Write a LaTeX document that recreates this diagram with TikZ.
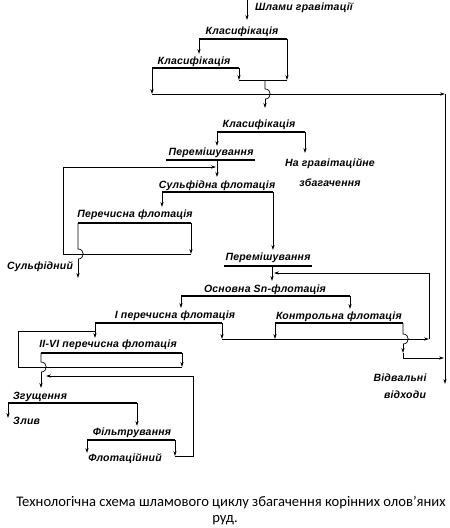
\documentclass[tikz,border=0pt]{standalone}
\usepackage{fontspec}
\setmainfont{Liberation Sans}
\newfontfamily\capfont{Carlito}
\newfontfamily\lblfont[LetterSpace=2]{Liberation Sans}
\usetikzlibrary{arrows.meta}
\tikzset{
  lbl/.style={font=\lblfont\fontsize{10.5}{12}\selectfont\bfseries\itshape, inner sep=0pt},
  barline/.style={line width=1.6pt},
  flow/.style={line width=0.7pt, -{Stealth[length=5pt,width=3.2pt]}},
  wire/.style={line width=0.7pt},
  capt/.style={font=\capfont\fontsize{14.6}{16}\selectfont, inner sep=0pt}
}
\begin{document}
\begin{tikzpicture}[x=1pt,y=-1pt]
\useasboundingbox (0,0) rectangle (450,528);
% ---------- top
\coordinate (in0) at (247,0);
\coordinate (in1) at (247,20);
\node[lbl, anchor=west] (feed) at (255,8) {Шлами гравітації};
\draw[flow] (in0) -- (in1);
\node[lbl] (k1) at (242,32) {Класифікація};
\coordinate (k1l) at (199,39); \coordinate (k1r) at (287,39);
\draw[barline] (k1l) -- (k1r);
\node[lbl] (k2) at (194,62) {Класифікація};
\coordinate (k2l) at (152,68); \coordinate (k2r) at (239,68);
\draw[barline] (k2l) -- (k2r);
\coordinate (k1a) at (199,54);
\draw[flow] (k1l) -- (k1a);
\coordinate (j1l) at (239,80); \coordinate (j1r) at (287,80); \coordinate (j1m) at (265,80);
\draw[flow] (k1r) -- (j1r);
\draw[flow] (k2r) -- (j1l);
\draw[wire] (j1l) -- (j1r);
\coordinate (t1) at (152,94); \coordinate (t2) at (445,94); \coordinate (t3) at (445,384);
\draw[flow] (k2l) -- (t1);
\draw[flow] (t1) -- (t2);
\draw[flow] (t2) -- (t3);
\coordinate (h1a) at (265,89); \coordinate (h1b) at (265,99); \coordinate (k3in) at (265,108);
\draw[wire] (j1m) -- (h1a) .. controls (272,89) and (272,99) .. (h1b);
\draw[flow] (h1b) -- (k3in);
% ---------- classification 3
\node[lbl] (k3) at (259,125) {Класифікація};
\coordinate (k3l) at (217,132); \coordinate (k3r) at (305,132);
\draw[barline] (k3l) -- (k3r);
\coordinate (p1in) at (217,146);
\draw[flow] (k3l) -- (p1in);
\coordinate (grin) at (305,153);
\draw[flow] (k3r) -- (grin);
\node[lbl] (gr1) at (330,164) {На гравітаційне};
\node[lbl] (gr2) at (330,183) {збагачення};
% ---------- mixing 1
\node[lbl] (p1) at (211,153) {Перемішування};
\coordinate (p1l) at (166,160); \coordinate (p1r) at (255,160);
\draw[barline] (p1l) -- (p1r);
\coordinate (p1o) at (217,160); \coordinate (sin) at (217,177);
\draw[flow] (p1o) -- (sin);
% ---------- sulphide flotation
\node[lbl] (s) at (217,186) {Сульфідна флотація};
\coordinate (sl) at (162,192); \coordinate (sr) at (273,192);
\draw[barline] (sl) -- (sr);
\coordinate (pfin) at (162,207);
\draw[flow] (sl) -- (pfin);
\node[lbl] (pf) at (135,215) {Перечисна флотація};
\coordinate (pfl) at (78,223); \coordinate (pfr) at (191,223);
\draw[barline] (pfl) -- (pfr);
\coordinate (r1) at (191,254); \coordinate (r2) at (63,254); \coordinate (r3) at (63,167); \coordinate (r4) at (216,167);
\draw[flow] (pfr) -- (r1);
\draw[flow] (r1) -- (r2) -- (r3) -- (r4);
\coordinate (h2a) at (78,249); \coordinate (h2b) at (78,259); \coordinate (sulf) at (78,278);
\draw[wire] (pfl) -- (h2a) .. controls (85,249) and (85,259) .. (h2b);
\draw[flow] (h2b) -- (sulf);
\node[lbl] (sulft) at (40,267) {Сульфідний};
% ---------- mixing 2
\coordinate (p2in) at (273,250);
\draw[flow] (sr) -- (p2in);
\node[lbl] (p2) at (268,258) {Перемішування};
\coordinate (p2l) at (224,266); \coordinate (p2r) at (312,266);
\draw[barline] (p2l) -- (p2r);
\coordinate (p2o) at (272,266); \coordinate (oin) at (272,281);
\draw[flow] (p2o) -- (oin);
% ---------- main Sn flotation
\node[lbl] (o) at (265,290) {Основна Sn-флотація};
\coordinate (ol) at (181,296); \coordinate (or) at (350,296);
\draw[barline] (ol) -- (or);
\coordinate (iin) at (181,308); \coordinate (kin) at (350,309);
\draw[flow] (ol) -- (iin);
\draw[flow] (or) -- (kin);
\node[lbl] (i1) at (175,316) {I перечисна флотація};
\coordinate (i1l) at (95,323); \coordinate (i1r) at (222,323);
\draw[barline] (i1l) -- (i1r);
\node[lbl] (kf) at (339,317) {Контрольна флотація};
\coordinate (kfl) at (275,323); \coordinate (kfr) at (403,323);
\draw[barline] (kfl) -- (kfr);
\coordinate (m1) at (222,339); \coordinate (m2) at (275,339); \coordinate (m3) at (429,339);
\coordinate (m4) at (429,273); \coordinate (m5) at (274,273);
\draw[flow] (i1r) -- (m1);
\draw[flow] (kfl) -- (m2);
\draw[flow] (m1) -- (m3);
\draw[flow] (m3) -- (m4) -- (m5);
\coordinate (h3a) at (403,334); \coordinate (h3b) at (403,344); \coordinate (h3c) at (403,353);
\coordinate (h3d) at (403,358); \coordinate (h3e) at (444,358);
\draw[wire] (kfr) -- (h3a) .. controls (410,334) and (410,344) .. (h3b);
\draw[flow] (h3b) -- (h3c);
\draw[flow] (h3c) -- (h3d) -- (h3e);
\node[lbl] (w1) at (400,378) {Відвальні};
\node[lbl] (w2) at (405,395) {відходи};
% ---------- II-VI cleaning
\coordinate (iiin) at (95,338); \coordinate (q1) at (95,331); \coordinate (q2) at (18,331);
\draw[flow] (i1l) -- (iiin);
\node[lbl] (ii) at (108,345) {II-VI перечисна флотація};
\coordinate (iil) at (41,353); \coordinate (iir) at (182,353);
\draw[barline] (iil) -- (iir);
\coordinate (q4) at (182,367); \coordinate (q3) at (18,367);
\draw[flow] (iir) -- (q4);
\draw[wire] (q4) -- (q3) -- (q2) -- (q1);
\coordinate (h4a) at (41,362); \coordinate (h4b) at (41,372); \coordinate (zin) at (41,388);
\draw[wire] (iil) -- (h4a) .. controls (48,362) and (48,372) .. (h4b);
\draw[flow] (h4b) -- (zin);
% ---------- thickening
\node[lbl] (z) at (40,397) {Згущення};
\coordinate (zl) at (8,403); \coordinate (zr) at (137,403);
\draw[barline] (zl) -- (zr);
\coordinate (zo) at (8,418); \coordinate (fin) at (137,426);
\draw[flow] (zl) -- (zo);
\draw[flow] (zr) -- (fin);
\node[lbl, anchor=west] (zliv) at (13,421) {Злив};
% ---------- filtering
\node[lbl] (f) at (132,433) {Фільтрування};
\coordinate (fl) at (87,440); \coordinate (fr) at (175,440);
\draw[barline] (fl) -- (fr);
\coordinate (fo) at (87,453); \coordinate (fb) at (175,456);
\draw[flow] (fl) -- (fo);
\node[lbl] (fc) at (125,459) {Флотаційний};
\coordinate (g1) at (193,456); \coordinate (g2) at (193,376); \coordinate (g3) at (46,376);
\draw[flow] (fr) -- (fb);
\draw[flow] (fb) -- (g1) -- (g2) -- (g3);
% ---------- caption
\node[capt] (c1) at (231,503) {Технологічна схема шламового циклу збагачення корінних олов’яних};
\node[capt] (c2) at (225,520) {руд.};
\end{tikzpicture}
\end{document}
